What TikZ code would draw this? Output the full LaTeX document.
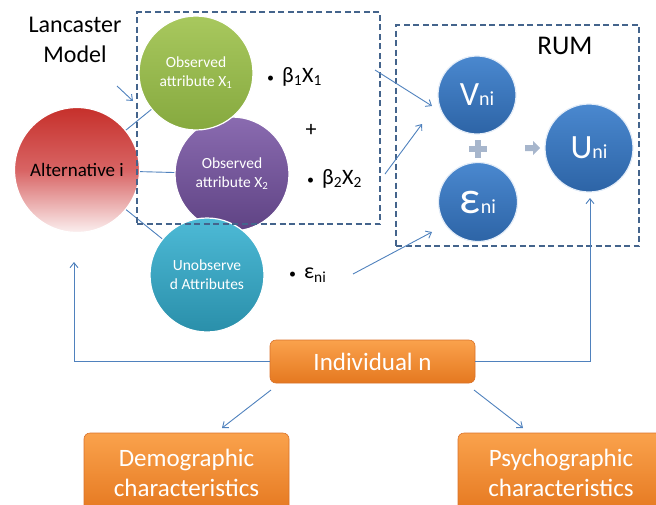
\documentclass[tikz,border=0pt]{standalone}
\usepackage{fontspec}
\setmainfont{Carlito}
\usetikzlibrary{arrows.meta}
\definecolor{lineblue}{HTML}{4F81BD}
\definecolor{dashblue}{HTML}{44648C}
\definecolor{grnT}{HTML}{A8C85E}
\definecolor{grnB}{HTML}{86A93F}
\definecolor{purT}{HTML}{8A6BB0}
\definecolor{purB}{HTML}{5F4384}
\definecolor{tealT}{HTML}{4DBAD6}
\definecolor{tealB}{HTML}{2A8FAA}
\definecolor{bluT}{HTML}{4A88CF}
\definecolor{bluB}{HTML}{2D64A6}
\definecolor{redT}{HTML}{C6302B}
\definecolor{redM}{HTML}{D86464}
\definecolor{redB}{HTML}{FBEFEF}
\definecolor{orT}{HTML}{FAA24C}
\definecolor{orB}{HTML}{E57820}
\definecolor{orD}{HTML}{D9722A}
\definecolor{iconc}{HTML}{A7B6CC}
\tikzset{
  ball/.style={circle, inner sep=0pt, draw=white, line width=1.2pt, text=white, align=center},
  attr/.style={ball, minimum size=114pt, font=\fontsize{15.5}{19}\selectfont},
  rumball/.style={ball, draw=white!85!bluT},
  obox/.style={rectangle, rounded corners=6pt, top color=orT, bottom color=orB, draw=orD, line width=0.6pt, text=white, align=center, inner sep=0pt},
  conn/.style={draw=lineblue, line width=0.9pt},
  arr/.style={conn, -{Straight Barb[length=5pt,width=8pt]}},
  dbox/.style={draw=dashblue, line width=1.3pt, dash pattern=on 6pt off 3.5pt},
  btxt/.style={anchor=west, font=\fontsize{22}{26}\selectfont, inner sep=0pt},
}
\newcommand{\smni}{{\fontsize{20}{22}\selectfont ni}}
\newcommand{\bigc}[1]{{\fontsize{34}{36}\selectfont #1}}
\newcommand{\smbul}{{\fontsize{14}{16}\selectfont •}\hspace{8pt}}
\begin{document}
\begin{tikzpicture}[x=1pt,y=-1pt]
\useasboundingbox (0,0) rectangle (656,504);

% Lancaster label
\node[align=center, font=\fontsize{24}{30}\selectfont] (lanc) at (75,40) {Lancaster\\Model};

% circles
\node[ball, minimum size=125pt, top color=redT, bottom color=redB, middle color=redM, text=black, font=\fontsize{19}{22}\selectfont] (alt) at (77,170) {Alternative i};
\node[attr, top color=purT, bottom color=purB] (x2) at (232,174) {Observed\\attribute X\textsubscript{2}};
\node[attr, top color=grnT, bottom color=grnB] (x1) at (196,73) {Observed\\attribute X\textsubscript{1}};
\node[attr, top color=tealT, bottom color=tealB] (un) at (207,275) {Unobserve\\d Attributes};

\draw[conn] (alt) -- (x1);
\draw[conn] (alt) -- (x2);
\draw[conn] (alt) -- (un);

% bullet texts
\node[btxt] (b1) at (267,77) {\smbul β\textsubscript{1}X\textsubscript{1}};
\node[font=\fontsize{22}{26}\selectfont, inner sep=0pt] (pl) at (311,130) {+};
\node[btxt] (b2) at (307,179) {\smbul β\textsubscript{2}X\textsubscript{2}};
\node[btxt] (b3) at (289,275) {\smbul ε\textsubscript{ni}};

% RUM circles
\node[rumball, minimum size=78pt, top color=bluT, bottom color=bluB] (v) at (477,95) {\bigc{V}\smni};
\node[rumball, minimum size=79pt, top color=bluT, bottom color=bluB] (eps) at (478,202) {{\fontsize{46}{40}\selectfont ε}\smni};
\node[rumball, minimum size=88pt, top color=bluT, bottom color=bluB] (u) at (589,148) {\bigc{U}\smni};
\node[font=\fontsize{27}{30}\selectfont] (rum) at (565,46) {RUM};

% plus icon and small arrow icon
\coordinate (plc) at (478,149);
\fill[iconc] ([shift={(-9,-3)}]plc) rectangle ([shift={(9,3)}]plc);
\fill[iconc] ([shift={(-3,-9)}]plc) rectangle ([shift={(3,9)}]plc);
\coordinate (arc) at (532,148);
\fill[iconc] ([shift={(-7,-3)}]arc) -- ([shift={(1,-3)}]arc) -- ([shift={(1,-7)}]arc) -- ([shift={(8,0)}]arc) -- ([shift={(1,7)}]arc) -- ([shift={(1,3)}]arc) -- ([shift={(-7,3)}]arc) -- cycle;

% dashed boxes
\node[dbox, minimum width=243pt, minimum height=212pt, inner sep=0pt] (box1) at (258.5,118) {};
\node[dbox, minimum width=243pt, minimum height=221pt, inner sep=0pt] (box2) at (517.5,135.5) {};

% arrows into RUM
\coordinate (s1) at (375,70); \coordinate (e1) at (432,106);
\coordinate (s2) at (385,174); \coordinate (e2) at (422,124);
\coordinate (s3) at (353,274); \coordinate (e3) at (432,232);
\draw[arr] (s1) -- (e1);
\draw[arr] (s2) -- (e2);
\draw[arr] (s3) -- (e3);
\coordinate (s4) at (117,86); \coordinate (e4) at (133,101);
\draw[arr] (s4) -- (e4);

% Individual and characteristics
\node[obox, minimum width=205pt, minimum height=43pt, font=\fontsize{25}{28}\selectfont] (ind) at (372.5,361.5) {Individual n};
\node[obox, minimum width=205pt, minimum height=80pt, font=\fontsize{25}{30}\selectfont] (dem) at (186.5,473) {Demographic\\characteristics};
\node[obox, minimum width=206pt, minimum height=80pt, font=\fontsize{25}{30}\selectfont] (psy) at (561,473) {Psychographic\\characteristics};

\coordinate (fl) at (74,262);
\coordinate (fr) at (590,198);
\draw[arr] (ind.west) -| (fl);
\draw[arr] (ind.east) -| (fr);
\coordinate (d1s) at (271,390); \coordinate (d1e) at (222,428);
\coordinate (d2s) at (474,390); \coordinate (d2e) at (523,428);
\draw[arr] (d1s) -- (d1e);
\draw[arr] (d2s) -- (d2e);
\end{tikzpicture}
\end{document}
